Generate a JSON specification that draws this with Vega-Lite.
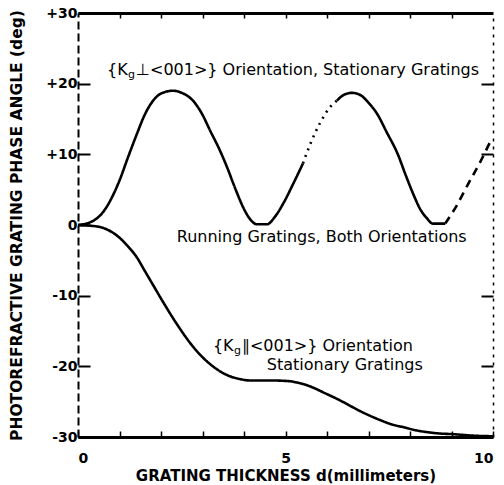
{
  "$schema": "https://vega.github.io/schema/vega-lite/v6.json",
  "width": 415,
  "height": 424,
  "autosize": {"type": "none"},
  "padding": {"left": 78, "top": 13, "right": 11, "bottom": 48},
  "background": "white",
  "config": {
    "view": {"stroke": null},
    "axis": {"grid": false, "labelFont": "DejaVu Sans", "titleFont": "DejaVu Sans", "labelColor": "black", "titleColor": "black", "domainColor": "black", "tickColor": "black"},
    "text": {"font": "DejaVu Sans", "fontSize": 16, "color": "black"}
  },
  "datasets": {
    "curves": [
      {"x": 0, "y": 0, "seg": "A1", "style": "solid"},
      {"x": 0.3, "y": 0.4, "seg": "A1", "style": "solid"},
      {"x": 0.6, "y": 1.8, "seg": "A1", "style": "solid"},
      {"x": 1.0, "y": 6.3, "seg": "A1", "style": "solid"},
      {"x": 1.2, "y": 9.5, "seg": "A1", "style": "solid"},
      {"x": 1.42, "y": 12.9, "seg": "A1", "style": "solid"},
      {"x": 1.6, "y": 15.5, "seg": "A1", "style": "solid"},
      {"x": 1.81, "y": 17.6, "seg": "A1", "style": "solid"},
      {"x": 2.0, "y": 18.6, "seg": "A1", "style": "solid"},
      {"x": 2.29, "y": 19.0, "seg": "A1", "style": "solid"},
      {"x": 2.5, "y": 18.7, "seg": "A1", "style": "solid"},
      {"x": 2.77, "y": 17.6, "seg": "A1", "style": "solid"},
      {"x": 3.0, "y": 15.6, "seg": "A1", "style": "solid"},
      {"x": 3.18, "y": 13.4, "seg": "A1", "style": "solid"},
      {"x": 3.4, "y": 10.8, "seg": "A1", "style": "solid"},
      {"x": 3.59, "y": 8.2, "seg": "A1", "style": "solid"},
      {"x": 3.8, "y": 5.0, "seg": "A1", "style": "solid"},
      {"x": 3.98, "y": 2.5, "seg": "A1", "style": "solid"},
      {"x": 4.15, "y": 0.8, "seg": "A1", "style": "solid"},
      {"x": 4.31, "y": 0.1, "seg": "A1", "style": "solid"},
      {"x": 4.55, "y": 0.1, "seg": "A1", "style": "solid"},
      {"x": 4.75, "y": 1.2, "seg": "A1", "style": "solid"},
      {"x": 4.96, "y": 3.2, "seg": "A1", "style": "solid"},
      {"x": 5.2, "y": 6.0, "seg": "A1", "style": "solid"},
      {"x": 5.42, "y": 8.7, "seg": "A1", "style": "solid"},
      {"x": 5.42, "y": 8.7, "seg": "A2", "style": "dotted"},
      {"x": 5.6, "y": 11.5, "seg": "A2", "style": "dotted"},
      {"x": 5.83, "y": 14.4, "seg": "A2", "style": "dotted"},
      {"x": 6.05, "y": 16.5, "seg": "A2", "style": "dotted"},
      {"x": 6.24, "y": 17.6, "seg": "A2", "style": "dotted"},
      {"x": 6.24, "y": 17.6, "seg": "A3", "style": "solid"},
      {"x": 6.4, "y": 18.4, "seg": "A3", "style": "solid"},
      {"x": 6.6, "y": 18.7, "seg": "A3", "style": "solid"},
      {"x": 6.8, "y": 18.4, "seg": "A3", "style": "solid"},
      {"x": 7.0, "y": 17.3, "seg": "A3", "style": "solid"},
      {"x": 7.2, "y": 15.8, "seg": "A3", "style": "solid"},
      {"x": 7.45, "y": 13.0, "seg": "A3", "style": "solid"},
      {"x": 7.7, "y": 10.1, "seg": "A3", "style": "solid"},
      {"x": 7.9, "y": 7.0, "seg": "A3", "style": "solid"},
      {"x": 8.07, "y": 4.5, "seg": "A3", "style": "solid"},
      {"x": 8.25, "y": 2.2, "seg": "A3", "style": "solid"},
      {"x": 8.4, "y": 1.0, "seg": "A3", "style": "solid"},
      {"x": 8.55, "y": 0.2, "seg": "A3", "style": "solid"},
      {"x": 8.85, "y": 0.2, "seg": "A3", "style": "solid"},
      {"x": 8.85, "y": 0.2, "seg": "A4", "style": "dashed"},
      {"x": 9.1, "y": 2.5, "seg": "A4", "style": "dashed"},
      {"x": 9.4, "y": 5.8, "seg": "A4", "style": "dashed"},
      {"x": 9.7, "y": 9.0, "seg": "A4", "style": "dashed"},
      {"x": 9.95, "y": 12.0, "seg": "A4", "style": "dashed"},
      {"x": 0, "y": 0, "seg": "B", "style": "solid"},
      {"x": 0.3, "y": -0.1, "seg": "B", "style": "solid"},
      {"x": 0.6, "y": -0.4, "seg": "B", "style": "solid"},
      {"x": 1.0, "y": -1.8, "seg": "B", "style": "solid"},
      {"x": 1.2, "y": -3.0, "seg": "B", "style": "solid"},
      {"x": 1.42, "y": -4.6, "seg": "B", "style": "solid"},
      {"x": 1.6, "y": -6.4, "seg": "B", "style": "solid"},
      {"x": 1.81, "y": -8.5, "seg": "B", "style": "solid"},
      {"x": 2.05, "y": -10.9, "seg": "B", "style": "solid"},
      {"x": 2.38, "y": -14.0, "seg": "B", "style": "solid"},
      {"x": 2.77, "y": -17.2, "seg": "B", "style": "solid"},
      {"x": 3.0, "y": -18.7, "seg": "B", "style": "solid"},
      {"x": 3.25, "y": -20.0, "seg": "B", "style": "solid"},
      {"x": 3.45, "y": -20.8, "seg": "B", "style": "solid"},
      {"x": 3.66, "y": -21.4, "seg": "B", "style": "solid"},
      {"x": 3.9, "y": -21.8, "seg": "B", "style": "solid"},
      {"x": 4.14, "y": -22.0, "seg": "B", "style": "solid"},
      {"x": 4.63, "y": -22.0, "seg": "B", "style": "solid"},
      {"x": 5.1, "y": -22.1, "seg": "B", "style": "solid"},
      {"x": 5.28, "y": -22.3, "seg": "B", "style": "solid"},
      {"x": 5.48, "y": -22.6, "seg": "B", "style": "solid"},
      {"x": 5.66, "y": -23.0, "seg": "B", "style": "solid"},
      {"x": 5.95, "y": -23.8, "seg": "B", "style": "solid"},
      {"x": 6.24, "y": -24.6, "seg": "B", "style": "solid"},
      {"x": 6.5, "y": -25.4, "seg": "B", "style": "solid"},
      {"x": 6.72, "y": -26.1, "seg": "B", "style": "solid"},
      {"x": 7.0, "y": -26.9, "seg": "B", "style": "solid"},
      {"x": 7.28, "y": -27.6, "seg": "B", "style": "solid"},
      {"x": 7.55, "y": -28.2, "seg": "B", "style": "solid"},
      {"x": 7.83, "y": -28.6, "seg": "B", "style": "solid"},
      {"x": 8.1, "y": -29.0, "seg": "B", "style": "solid"},
      {"x": 8.4, "y": -29.3, "seg": "B", "style": "solid"},
      {"x": 8.7, "y": -29.5, "seg": "B", "style": "solid"},
      {"x": 9.04, "y": -29.6, "seg": "B", "style": "solid"},
      {"x": 9.5, "y": -29.8, "seg": "B", "style": "solid"},
      {"x": 10.0, "y": -29.9, "seg": "B", "style": "solid"}
    ],
    "prefix": [
      {"x": 0.7, "y": 21.9, "t": "{K"},
      {"x": 3.25, "y": -17.1, "t": "{K"}
    ],
    "sub": [
      {"x": 0.7, "y": 21.9, "t": "g"},
      {"x": 3.25, "y": -17.1, "t": "g"}
    ],
    "rest": [
      {"x": 0.7, "y": 21.9, "t": "⊥<001>} Orientation, Stationary Gratings"},
      {"x": 3.25, "y": -17.1, "t": "∥<001>} Orientation"}
    ],
    "plain": [
      {"x": 2.38, "y": -1.7, "t": "Running Gratings, Both Orientations"},
      {"x": 4.55, "y": -19.8, "t": "Stationary Gratings"}
    ]
  },
  "resolve": {"axis": {"x": "independent", "y": "independent"}},
  "layer": [
    {
      "data": {"name": "curves"},
      "mark": {"type": "line", "color": "black", "strokeWidth": 2.6, "interpolate": "monotone"},
      "encoding": {
        "x": {"field": "x", "type": "quantitative", "scale": {"domain": [0, 10], "nice": false},
          "axis": {"orient": "bottom", "values": [0, 1, 2, 3, 4, 5, 6, 7, 8, 9, 10], "labelExpr": "datum.value % 5 == 0 ? '' + datum.value : ''",
            "tickSize": -6, "tickWidth": 1.5, "domainWidth": 3, "labelFontSize": 14, "labelFontWeight": "bold", "labelPadding": 20,
            "title": "GRATING THICKNESS d(millimeters)", "titleFontSize": 15, "titleFontWeight": "bold", "titlePadding": 3}},
        "y": {"field": "y", "type": "quantitative", "scale": {"domain": [-30, 30], "nice": false},
          "axis": {"orient": "left", "values": [-30, -20, -10, 0, 10, 20, 30], "labelExpr": "datum.value > 0 ? '+' + datum.value : '' + datum.value",
            "tickSize": -12, "tickWidth": 2, "domainWidth": 2, "domainDash": [8, 4], "labelFontSize": 14, "labelFontWeight": "bold", "labelPadding": 13,
            "title": "PHOTOREFRACTIVE GRATING PHASE ANGLE (deg)", "titleFontSize": 15.5, "titleFontWeight": "bold", "titlePadding": 21}},
        "detail": {"field": "seg"},
        "strokeDash": {"field": "style", "type": "nominal", "scale": {"domain": ["solid", "dotted", "dashed"], "range": [[1, 0], [2, 5], [8, 6]]}, "legend": null}
      }
    },
    {
      "mark": {"type": "rule", "color": "black", "strokeWidth": 3.5},
      "encoding": {"y": {"datum": 0, "axis": null}}
    },
    {
      "data": {"name": "plain"},
      "mark": {"type": "text", "align": "left", "baseline": "middle", "fontSize": 16},
      "encoding": {
        "x": {"field": "x", "type": "quantitative",
          "axis": {"orient": "top", "values": [1, 2, 3, 4, 5, 6, 7, 8, 9], "labels": false, "tickSize": -5, "tickWidth": 1.5, "domainWidth": 3, "title": null}},
        "y": {"field": "y", "type": "quantitative",
          "axis": {"orient": "right", "values": [-20, -10, 10, 20], "labels": false, "tickSize": -12, "tickWidth": 2, "domainWidth": 1.5, "domainDash": [3, 5], "title": null}},
        "text": {"field": "t"}
      }
    },
    {
      "data": {"name": "prefix"},
      "mark": {"type": "text", "align": "left", "baseline": "middle", "fontSize": 16},
      "encoding": {
        "x": {"field": "x", "type": "quantitative", "axis": null},
        "y": {"field": "y", "type": "quantitative", "axis": null},
        "text": {"field": "t"}
      }
    },
    {
      "data": {"name": "sub"},
      "mark": {"type": "text", "align": "left", "baseline": "middle", "fontSize": 11, "dx": 21, "dy": 5},
      "encoding": {
        "x": {"field": "x", "type": "quantitative", "axis": null},
        "y": {"field": "y", "type": "quantitative", "axis": null},
        "text": {"field": "t"}
      }
    },
    {
      "data": {"name": "rest"},
      "mark": {"type": "text", "align": "left", "baseline": "middle", "fontSize": 16, "dx": 29},
      "encoding": {
        "x": {"field": "x", "type": "quantitative", "axis": null},
        "y": {"field": "y", "type": "quantitative", "axis": null},
        "text": {"field": "t"}
      }
    }
  ]
}
